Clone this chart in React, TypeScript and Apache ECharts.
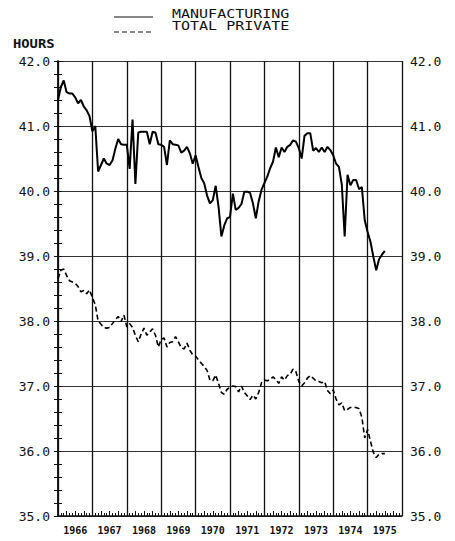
import React, { useEffect, useRef } from "react";
import * as echarts from "echarts";

// Monthly values starting January 1966
const MANUFACTURING: number[] = [
  41.4, 41.6, 41.7, 41.52, 41.5, 41.5, 41.44, 41.35, 41.4, 41.3, 41.24, 41.15,
  40.92, 41.0, 40.3, 40.4, 40.5, 40.42, 40.4, 40.47, 40.65, 40.8, 40.72, 40.71,
  40.71, 40.34, 41.1, 40.11, 40.9, 40.91, 40.91, 40.91, 40.72, 40.91, 40.9, 40.72,
  40.71, 40.68, 40.4, 40.78, 40.72, 40.71, 40.7, 40.59, 40.62, 40.68, 40.58, 40.42,
  40.55, 40.37, 40.2, 40.12, 39.93, 39.81, 39.86, 40.08, 39.76, 39.3, 39.47, 39.58,
  39.6, 39.96, 39.71, 39.74, 39.8, 39.99, 39.99, 39.97, 39.81, 39.58, 39.84, 40.02,
  40.12, 40.22, 40.35, 40.45, 40.67, 40.52, 40.67, 40.6, 40.68, 40.71, 40.78, 40.76,
  40.66, 40.5, 40.85, 40.89, 40.89, 40.62, 40.66, 40.6, 40.67, 40.6, 40.68, 40.63,
  40.55, 40.42, 40.37, 40.1, 39.3, 40.25, 40.09, 40.17, 40.17, 40.03, 40.06, 39.55,
  39.37, 39.22, 38.99, 38.78, 38.95, 39.02, 39.08,
];

const TOTAL_PRIVATE: number[] = [
  38.65, 38.78, 38.8, 38.7, 38.62, 38.6, 38.58, 38.53, 38.45, 38.47, 38.42, 38.48,
  38.36, 38.25, 38.0, 37.95, 37.9, 37.89, 37.9, 37.96, 38.02, 38.07, 37.99, 38.09,
  37.91, 37.96, 37.9, 37.78, 37.68, 37.8, 37.89, 37.78, 37.83, 37.88, 37.78, 37.6,
  37.72, 37.74, 37.6, 37.67, 37.68, 37.76, 37.68, 37.59, 37.57, 37.66, 37.55, 37.48,
  37.46, 37.4, 37.35, 37.3, 37.24, 37.09, 37.08, 37.17, 37.04, 36.9, 36.87, 36.95,
  36.98, 37.0, 36.99, 36.91, 37.0, 36.9, 36.85, 36.79, 36.86, 36.8, 36.9, 37.05,
  37.09, 37.08, 37.1, 37.14, 37.1, 37.04, 37.14, 37.09, 37.16, 37.18, 37.26, 37.22,
  37.07, 37.0, 37.05, 37.12, 37.16, 37.12, 37.08, 37.07, 37.05, 37.07, 36.93, 36.88,
  36.94, 36.8, 36.71, 36.74, 36.62, 36.64, 36.67, 36.67, 36.67, 36.65, 36.52, 36.2,
  36.33, 36.15, 35.98, 35.9, 35.95, 35.96, 35.96,
];

const YEARS: string[] = ["1966", "1967", "1968", "1969", "1970", "1971", "1972", "1973", "1974", "1975"];

const SERIES_NAMES = ["MANUFACTURING", "TOTAL PRIVATE"];
const Y_MIN = 35;
const Y_MAX = 42;
const MONTHS_TOTAL = YEARS.length * 12;

const FONT = "DejaVu Sans Mono";

export default function App() {
  const ref = useRef<HTMLDivElement>(null);

  useEffect(() => {
    document.body.style.margin = "0";
    if (!ref.current) return;
    const chart = echarts.init(ref.current, null, { renderer: "svg" });

    const toPairs = (arr: number[]) => arr.map((v, i) => [i, v]);

    const yAxisBase = {
      type: "value",
      min: Y_MIN,
      max: Y_MAX,
      interval: 1,
      axisLine: { show: true, lineStyle: { color: "#111", width: 1.5 } },
      axisTick: { show: true, inside: true, length: 4, lineStyle: { color: "#111", width: 1 } },
      minorTick: { show: true, splitNumber: 5, length: 4, lineStyle: { color: "#111", width: 1 } },
      axisLabel: {
        formatter: (v: number) => v.toFixed(1),
        fontFamily: FONT,
        fontSize: 13,
        color: "#111",
        margin: 8,
      },
    };

    chart.setOption({
      animation: false,
      grid: { left: 58, right: 53, top: 61, bottom: 25, containLabel: false },
      graphic: [
        { type: "line", shape: { x1: 114, y1: 17, x2: 153, y2: 17 }, style: { stroke: "#111", lineWidth: 1.2 } },
        { type: "line", shape: { x1: 114, y1: 32, x2: 153, y2: 32 }, style: { stroke: "#111", lineWidth: 1.2, lineDash: [5, 3] } },
        {
          type: "text", x: 172, y: 14, scaleX: 1.25,
          style: { text: SERIES_NAMES[0], font: `12px ${FONT}`, fill: "#111", verticalAlign: "middle" },
        },
        {
          type: "text", x: 172, y: 26, scaleX: 1.25,
          style: { text: SERIES_NAMES[1], font: `12px ${FONT}`, fill: "#111", verticalAlign: "middle" },
        },
        {
          type: "text", x: 13, y: 44, scaleX: 1.15,
          style: { text: "HOURS", font: `bold 12px ${FONT}`, fill: "#111", verticalAlign: "middle" },
        },
      ],
      xAxis: [
        {
          type: "value",
          position: "bottom",
          min: 0,
          max: MONTHS_TOTAL,
          interval: 12,
          axisLine: { show: true, lineStyle: { color: "#111", width: 1.5 } },
          axisTick: { show: false },
          axisLabel: { show: false },
          splitLine: { show: true, lineStyle: { color: "#111", width: 1.3 } },
        },
        {
          type: "value",
          position: "bottom",
          offset: 0,
          min: 0,
          max: MONTHS_TOTAL,
          interval: 3,
          axisLine: { show: false },
          axisTick: { show: true, inside: true, length: 5, lineStyle: { color: "#111", width: 1 } },
          minorTick: { show: true, splitNumber: 3, length: 3, lineStyle: { color: "#111", width: 1 } },
          axisLabel: { show: false },
          splitLine: { show: false },
        },
        {
          type: "category",
          position: "bottom",
          offset: 0,
          data: YEARS,
          boundaryGap: true,
          axisLine: { show: false },
          axisTick: { show: false },
          splitLine: { show: false },
          axisLabel: { fontFamily: FONT, fontSize: 10, fontWeight: "bold", color: "#111", margin: 9 },
        },
      ],
      yAxis: [
        {
          ...yAxisBase,
          position: "left",
          splitLine: { show: true, lineStyle: { color: "#333", width: 1 } },
        },
        {
          ...yAxisBase,
          position: "right",
          splitLine: { show: false },
        },
      ],
      series: [
        {
          name: SERIES_NAMES[0],
          type: "line",
          xAxisIndex: 0,
          yAxisIndex: 0,
          data: toPairs(MANUFACTURING),
          showSymbol: false,
          symbol: "none",
          lineStyle: { color: "#000", width: 2 },
          z: 5,
        },
        {
          name: SERIES_NAMES[1],
          type: "line",
          xAxisIndex: 0,
          yAxisIndex: 0,
          data: toPairs(TOTAL_PRIVATE),
          showSymbol: false,
          symbol: "none",
          lineStyle: { color: "#000", width: 1.6, type: [5, 3] },
          z: 5,
        },
      ],
    });

    return () => chart.dispose();
  }, []);

  return <div ref={ref} style={{ width: 455, height: 541 }} />;
}
